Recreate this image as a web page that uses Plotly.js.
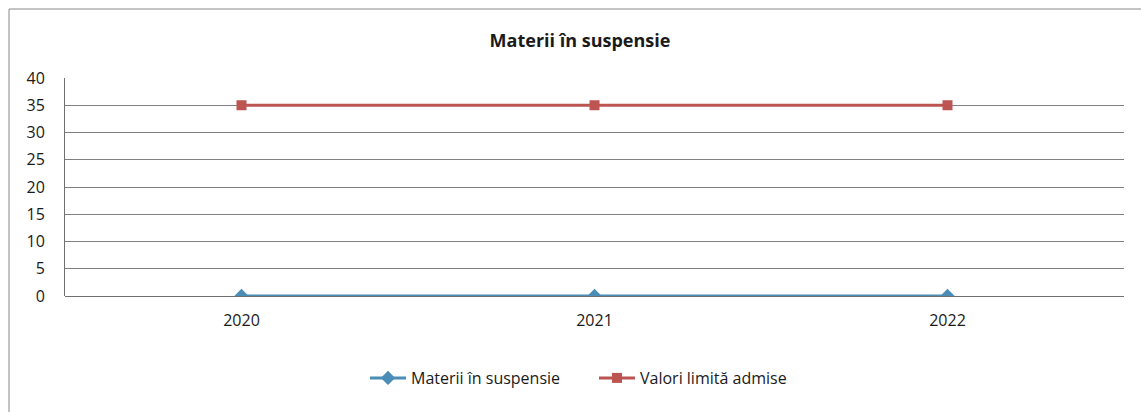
<!DOCTYPE html>
<html>
<head>
<meta charset="utf-8">
<script src="https://cdn.plot.ly/plotly-3.0.1.min.js"></script>
<style>html,body{margin:0;padding:0;background:#fff;}#chart{width:1141px;height:412px;}</style>
</head>
<body>
<div id="chart"></div>
<script>
const years = ["2020", "2021", "2022"];
const materiiValues = [0, 0, 0];
const limitValues = [35, 35, 35];
const yTicks = [0, 5, 10, 15, 20, 25, 30, 35, 40];

const W = 1141, H = 412;
const L = 65, R = 17, T = 78, B = 116;
const pw = W - L - R, ph = H - T - B;
function px(x){ return (x - L) / pw; }
function py(y){ return (H - B - y) / ph; }

const font = "'Open Sans', 'Noto Sans', sans-serif";

const traces = [
  {
    x: years, y: materiiValues, name: "Materii în suspensie", type: "scatter", mode: "lines+markers",
    line: {color: "#4A8EB8", width: 3},
    marker: {symbol: "diamond", size: 11, color: "#4A8EB8"}
  },
  {
    x: years, y: limitValues, name: "Valori limită admise", type: "scatter", mode: "lines+markers",
    line: {color: "#BC5552", width: 3},
    marker: {symbol: "square", size: 10, color: "#BC5552"}
  }
];

const layout = {
  width: W, height: H,
  margin: {l: L, r: R, t: T, b: B, pad: 0},
  paper_bgcolor: "#fff", plot_bgcolor: "#fff",
  font: {family: font, size: 16, color: "#1a1a1a"},
  title: {text: "<b>Materii în suspensie</b>", x: 580 / W, xanchor: "center", y: 1 - 41 / H, yanchor: "middle", font: {family: font, size: 18, color: "#1a1a1a"}},
  showlegend: true,
  legend: {orientation: "h", x: px(365), xanchor: "left", y: py(378), yanchor: "middle", font: {family: font, size: 16, color: "#1a1a1a"}, itemwidth: 36, entrywidth: 178, entrywidthmode: "pixels", tracegroupgap: 0},
  xaxis: {
    type: "category", range: [-0.5, 2.5], showgrid: false, zeroline: false,
    showline: false, ticks: "", ticklabelstandoff: 13, fixedrange: true,
    tickfont: {family: font, size: 16, color: "#1a1a1a"}
  },
  yaxis: {
    range: [0, 40], tickvals: yTicks, showgrid: true, gridcolor: "#808080", gridwidth: 1,
    zeroline: true, zerolinecolor: "#707070", zerolinewidth: 1,
    showline: true, linecolor: "#707070", linewidth: 1, ticks: "", ticklabelstandoff: 16,
    tickfont: {family: font, size: 16, color: "#1a1a1a"}, fixedrange: true
  },
  shapes: [
    {type: "line", xref: "paper", yref: "paper", x0: px(9), x1: px(1141), y0: py(9), y1: py(9), line: {color: "#888", width: 1}},
    {type: "line", xref: "paper", yref: "paper", x0: px(9), x1: px(9), y0: py(9), y1: py(412), line: {color: "#888", width: 1}}
  ]
};

Plotly.newPlot("chart", traces, layout, {displayModeBar: false, staticPlot: true});
</script>
</body>
</html>
